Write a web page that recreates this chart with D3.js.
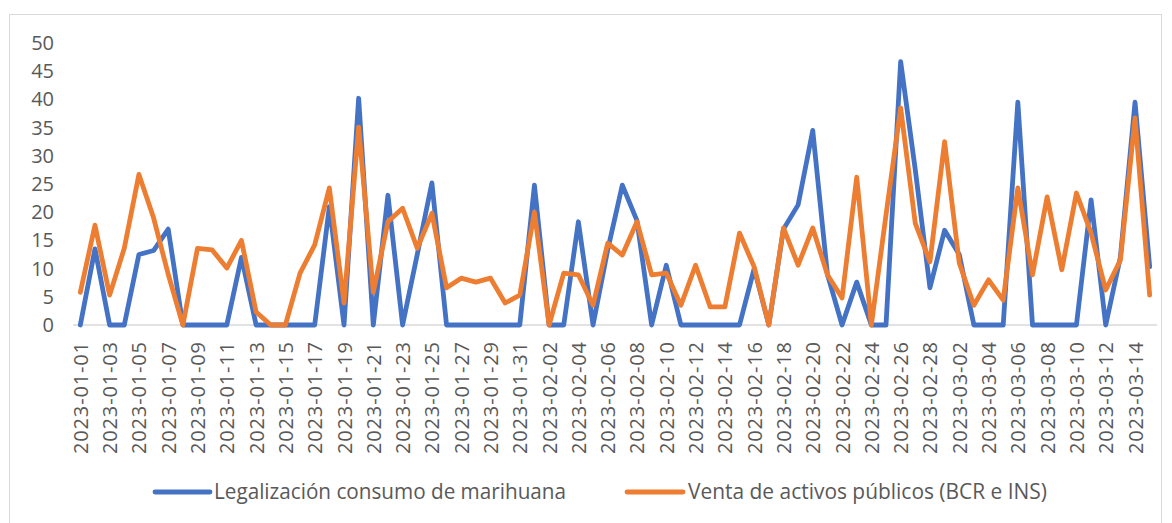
<!DOCTYPE html>
<html>
<head>
<meta charset="utf-8">
<script src="https://cdn.jsdelivr.net/npm/d3@7"></script>
<style>
  body { margin: 0; background: #fff; }
  text { font-family: "Open Sans", "Noto Sans", sans-serif; fill: #595959; }
</style>
</head>
<body>
<svg id="chart" width="1172" height="523"></svg>
<script>
// days shown on the category axis (2023-01-01 .. 2023-03-15)
const startDay = new Date(2023, 0, 1);
const dates = d3.range(74).map(i => d3.timeFormat("%Y-%m-%d")(d3.timeDay.offset(startDay, i)));

const seriesNames = ["Legalización consumo de marihuana", "Venta de activos públicos (BCR e INS)"];

const marihuana = [
  0, 13.5, 0, 0, 12.5, 13.2, 17, 0, 0, 0,
  0, 12, 0, 0, 0, 0, 0, 21, 0, 40.2,
  0, 23, 0, 12.5, 25.2, 0, 0, 0, 0, 0,
  0, 24.8, 0, 0, 18.3, 0, 13.3, 24.8, 18.5, 0,
  10.6, 0, 0, 0, 0, 0, 10, 0, 17, 21.3,
  34.5, 9, 0, 7.6, 0, 0, 46.7, 27.5, 6.6, 16.8,
  12.5, 0, 0, 0, 39.5, 0, 0, 0, 0, 22.2,
  0, 12, 39.5, 10.3
];

const activos = [
  5.8, 17.7, 5.3, 13.6, 26.7, 19, 9, 0, 13.6, 13.3,
  10.1, 15, 2.3, 0, 0, 9.2, 14.2, 24.3, 3.9, 35.1,
  5.8, 18.3, 20.7, 13.6, 19.8, 6.6, 8.3, 7.6, 8.3, 3.9,
  5.3, 20, 0, 9.2, 8.9, 3.5, 14.5, 12.4, 18.3, 8.9,
  9.2, 3.5, 10.6, 3.2, 3.2, 16.3, 10.3, 0, 17.2, 10.6,
  17.2, 8.9, 4.8, 26.2, 0, 19.5, 38.5, 18, 11.2, 32.5,
  11, 3.5, 8, 4.4, 24.3, 8.9, 22.7, 9.8, 23.4, 16.3,
  6.2, 11.5, 36.7, 5.3
];

const yTicks = [0, 5, 10, 15, 20, 25, 30, 35, 40, 45, 50];
const colors = ["#4472C4", "#ED7D31"];

const svg = d3.select("#chart");

// outer chart frame
svg.append("rect")
  .attr("x", 9.5).attr("y", 14.5)
  .attr("width", 1152).attr("height", 520)
  .attr("fill", "none").attr("stroke", "#d9d9d9");

const x = d3.scalePoint().domain(dates).range([73, 1157]).padding(0.5);
const y = d3.scaleLinear().domain([0, 50]).range([325, 43]);

// y axis labels, no axis line
const yAxis = svg.append("g")
  .attr("transform", "translate(54,0)")
  .call(d3.axisLeft(y).tickValues(yTicks).tickSize(0).tickPadding(0));
yAxis.select(".domain").remove();
yAxis.selectAll("text")
  .style("font-size", "20px")
  .attr("fill", "#595959");

// baseline
svg.append("line")
  .attr("x1", 73).attr("x2", 1157)
  .attr("y1", y(0)).attr("y2", y(0))
  .attr("stroke", "#d9d9d9").attr("stroke-width", 1.5);

// x axis labels every second day, rotated
const xAxis = svg.append("g")
  .attr("transform", `translate(0,${y(0)})`)
  .call(d3.axisBottom(x).tickValues(dates.filter((d, i) => i % 2 === 0)).tickSize(0));
xAxis.select(".domain").remove();
xAxis.selectAll("text")
  .style("font-size", "20px")
  .attr("fill", "#595959")
  .attr("transform", "rotate(-90)")
  .attr("text-anchor", "end")
  .attr("x", -17)
  .attr("y", 0)
  .attr("dy", "0.35em")
  .attr("textLength", 112)
  .attr("lengthAdjust", "spacing");

const line = d3.line()
  .x((d, i) => x(dates[i]))
  .y(d => y(d));

[marihuana, activos].forEach((vals, k) => {
  svg.append("path")
    .datum(vals)
    .attr("fill", "none")
    .attr("stroke", colors[k])
    .attr("stroke-width", 4.8)
    .attr("stroke-linejoin", "round")
    .attr("stroke-linecap", "round")
    .attr("d", line);
});

// legend
const legendItems = [
  { x1: 155, x2: 210, tx: 214, len: 352 },
  { x1: 627, x2: 683, tx: 688, len: 359 }
];
legendItems.forEach((l, k) => {
  svg.append("line")
    .attr("x1", l.x1).attr("x2", l.x2)
    .attr("y1", 492).attr("y2", 492)
    .attr("stroke", colors[k]).attr("stroke-width", 4.8)
    .attr("stroke-linecap", "round");
  svg.append("text")
    .attr("x", l.tx).attr("y", 492)
    .attr("dy", "0.35em")
    .style("font-size", "21px")
    .attr("textLength", l.len)
    .attr("lengthAdjust", "spacingAndGlyphs")
    .text(seriesNames[k]);
});
</script>
</body>
</html>
